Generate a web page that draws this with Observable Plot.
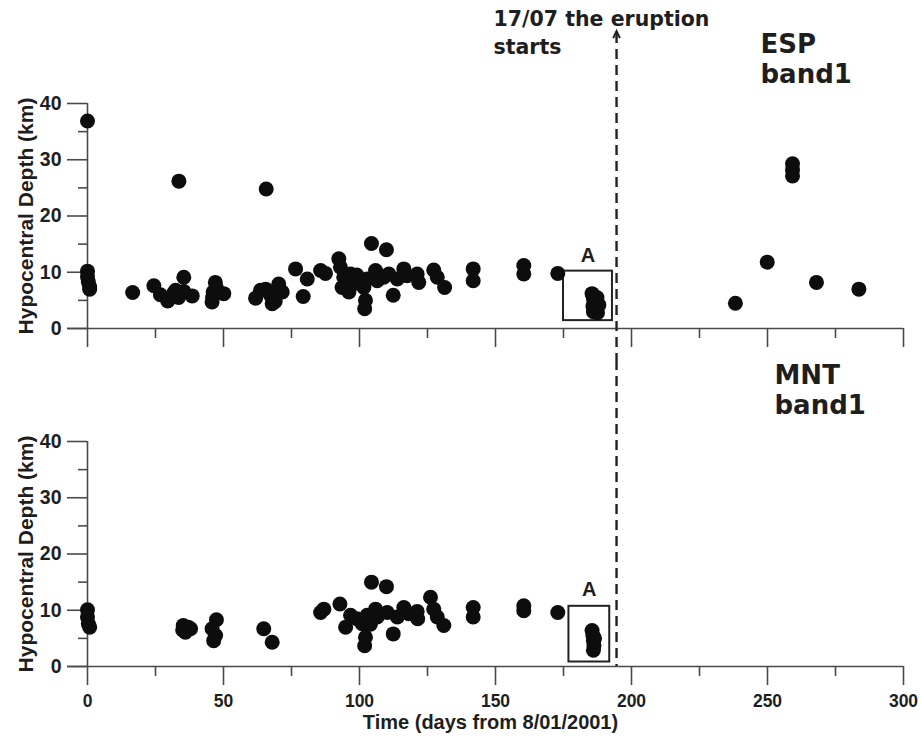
<!DOCTYPE html>
<html><head><meta charset="utf-8">
<script src="https://cdn.jsdelivr.net/npm/d3@7"></script>
<script src="https://cdn.jsdelivr.net/npm/@observablehq/plot@0.6"></script>
<style>
body{margin:0;background:#fff;}
#chart{width:921px;height:736px;overflow:hidden;background:#fff;}
#chart svg{display:block;}
#chart svg text{font-weight:bold;}
</style></head><body><div id="chart"></div>
<script>
// ESP band1 events: day (from 8/01/2001) and hypocentral depth (km)
const espDays = [0,0,0.3,0.8,0.8, 16.6, 24.4,26.8,29.5,31.7,32.4,35.4,35.4,38.5,33.5,
  45.8,46.2,47,47.3,50.1,46, 61.8,63.6,65.5,67.3,67.9,70.3,71.6,69,
  33.6,65.7,0,
  76.5,79.3,80.8,85.7,87.5,92.4,93,94.2,93.6,96.1,96.7,101.9,102.2,101.6,102.8,104.4,105.9,106.5,109.9,108.9,110.8,112.4,113.9,116.3,117.5,121.2,121.8,127.3,128.6,131.3,99,98,
  141.8,141.8,160.4,160.4,172.9,
  185.5,186,186.5,187,186,187.5,185.8,188,187.3,
  238.2,249.9,259.2,259.2,259.2,268,283.6];
const espDepths = [10.2,9.2,8.3,7.4,7.0, 6.4, 7.6,6.0,4.9,6.3,6.8,9.1,6.6,5.8,5.5,
  4.7,6.5,8.2,7.3,6.2,5.5, 5.4,6.8,7.0,5.9,4.4,7.9,6.5,4.8,
  26.2,24.8,36.9,
  10.6,5.7,8.8,10.3,9.8,12.4,10.9,9.1,7.3,6.5,9.7,3.5,5.0,7.3,8.8,15.1,10.3,8.5,14.0,9.1,9.7,5.9,8.8,10.6,9.4,9.7,8.2,10.4,9.1,7.3,9.5,8.0,
  10.6,8.5,11.2,9.7,9.8,
  6.2,5.3,4.5,3.6,3.0,2.8,4.0,4.2,5.5,
  4.5,11.8,29.3,28.2,27.1,8.2,7.0];
// MNT band1 events
const mntDays = [0,0,0.3,0.8, 35.2,36,37.9,35,37, 47.4,45.8,46.4,47.1, 64.8,67.9,
  85.7,86.9,92.8,94.9,96.7,101,101.9,102.2,102.8,104.4,105.9,106.5,109.9,110.2,112.4,113.9,116.3,118.1,121.2,121.4,126.1,127.3,128.6,131,99,104,
  141.8,141.8,160.4,160.4,172.9,
  185.5,185.8,186,186.2,186,186.4];
const mntDepths = [10.1,8.8,7.6,7.0, 7.3,6.1,6.7,6.5,7.0, 8.3,6.7,4.6,5.5, 6.7,4.3,
  9.6,10.2,11.1,7.0,9.1,7.6,3.7,5.2,9.1,15.0,10.2,8.8,14.2,9.6,5.8,8.8,10.5,9.4,9.8,8.5,12.3,10.2,8.8,7.3,8.5,7.5,
  10.5,8.8,10.8,9.9,9.6,
  6.4,5.5,4.6,3.7,2.9,5.0];

const majorX = [0,50,100,150,200,250,300];
const minorX = [25,75,125,175,225,275];
const majorY = [0,10,20,30,40];
const minorY = [5,15,25,35];
const eruptionDay = 194.5;
const eruptionLabel = "17/07 the eruption\nstarts";
const topPanelLabel = "ESP\nband1";
const bottomPanelLabel = "MNT\nband1";
const yTitle = "Hypocentral Depth (km)";
const xTitle = "Time (days from 8/01/2001)";
const boxTopX = [175, 193], boxTopY = [1.4, 10.2];
const boxBotX = [177, 192], boxBotY = [0.8, 10.7];

const esp = espDays.map((d, i) => ({day: d, depth: espDepths[i]}));
const mnt = mntDays.map((d, i) => ({day: d, depth: mntDepths[i]}));

const AX = "#4a4a4a", TXT = "#1e1e1e", INK = "#0d0d0d";
const chevron = {draw(ctx, size) { const r = Math.sqrt(size / Math.PI); ctx.moveTo(-0.75*r, 0.6*r); ctx.lineTo(0, -r); ctx.lineTo(0.75*r, 0.6*r); }};

function axes(withLabels) {
  return [
    Plot.ruleX([0], {stroke: AX, strokeWidth: 1.6}),
    Plot.ruleY([0], {stroke: AX, strokeWidth: 1.6, insetLeft: -20}),
    Plot.axisY(majorY, {tickSize: 20, tickPadding: 6, fontSize: 19.5, stroke: AX, fill: TXT, strokeWidth: 1.6, label: null}),
    Plot.axisY(minorY, {tickSize: 9, tickFormat: () => "", stroke: AX, strokeWidth: 1.6, label: null}),
    Plot.axisX(majorX, {tickSize: 19, tickPadding: 9, fontSize: 17.5, stroke: AX, fill: TXT, strokeWidth: 1.6, label: null, tickFormat: withLabels ? (d => d) : (() => "")}),
    Plot.axisX(minorX, {tickSize: 10, tickFormat: () => "", stroke: AX, strokeWidth: 1.6, label: null}),
    Plot.text([yTitle], {frameAnchor: "left", textAnchor: "middle", dx: -61, rotate: -90, fontSize: 21, fill: TXT})
  ];
}

const common = {
  width: 921, marginLeft: 87, marginRight: 18,
  x: {domain: [0, 300]}, y: {domain: [0, 40]},
  style: {fontFamily: "'Liberation Sans', Arial, sans-serif", fontSize: "18px", color: TXT, background: "#fff", overflow: "visible"}
};

const topPlot = Plot.plot({
  ...common, height: 360, marginTop: 103, marginBottom: 32,
  marks: [
    ...axes(false),
    Plot.ruleX([eruptionDay], {stroke: "#222", strokeWidth: 2.4, strokeDasharray: "10,6", insetTop: -70, insetBottom: -32}),
    Plot.dot([eruptionDay], {x: d => d, frameAnchor: "top", dy: -68, r: 4.5, symbol: chevron, stroke: "#222", strokeWidth: 2, fill: "none"}),
    Plot.text([eruptionLabel], {x: eruptionDay, frameAnchor: "top", dx: -123, dy: -50, textAnchor: "start", lineAnchor: "bottom", lineHeight: 1.33, fontSize: 20.5, fontFamily: "'DejaVu Sans'", fill: TXT}),
    Plot.text([topPanelLabel], {frameAnchor: "top-right", dx: -143, dy: -21, textAnchor: "start", lineAnchor: "bottom", lineHeight: 1.15, fontSize: 26, fontFamily: "'DejaVu Sans'", fill: TXT}),
    Plot.rect([0], {x1: boxTopX[0], x2: boxTopX[1], y1: boxTopY[0], y2: boxTopY[1], fill: "none", stroke: "#222", strokeWidth: 2}),
    Plot.text(["A"], {x: (boxTopX[0] + boxTopX[1]) / 2, y: boxTopY[1], dy: -9, lineAnchor: "bottom", fontSize: 20, fill: TXT}),
    Plot.dot(esp, {x: "day", y: "depth", r: 7.5, fill: INK, stroke: "none"})
  ]
});

const bottomPlot = Plot.plot({
  ...common, height: 376, marginTop: 81, marginBottom: 70,
  marks: [
    ...axes(true),
    Plot.ruleX([eruptionDay], {stroke: "#222", strokeWidth: 2.4, strokeDasharray: "10,6", insetTop: -81}),
    Plot.text([bottomPanelLabel], {frameAnchor: "top-right", dx: -129, dy: -28, textAnchor: "start", lineAnchor: "bottom", lineHeight: 1.12, fontSize: 26, fontFamily: "'DejaVu Sans'", fill: TXT}),
    Plot.text([xTitle], {frameAnchor: "bottom", dx: -5, dy: 62, lineAnchor: "bottom", fontSize: 20, fill: TXT}),
    Plot.rect([0], {x1: boxBotX[0], x2: boxBotX[1], y1: boxBotY[0], y2: boxBotY[1], fill: "none", stroke: "#222", strokeWidth: 2}),
    Plot.text(["A"], {x: (boxBotX[0] + boxBotX[1]) / 2, y: boxBotY[1], dy: -10, lineAnchor: "bottom", fontSize: 20, fill: TXT}),
    Plot.dot(mnt, {x: "day", y: "depth", r: 7.5, fill: INK, stroke: "none"})
  ]
});

document.getElementById("chart").append(topPlot, bottomPlot);
</script></body></html>
